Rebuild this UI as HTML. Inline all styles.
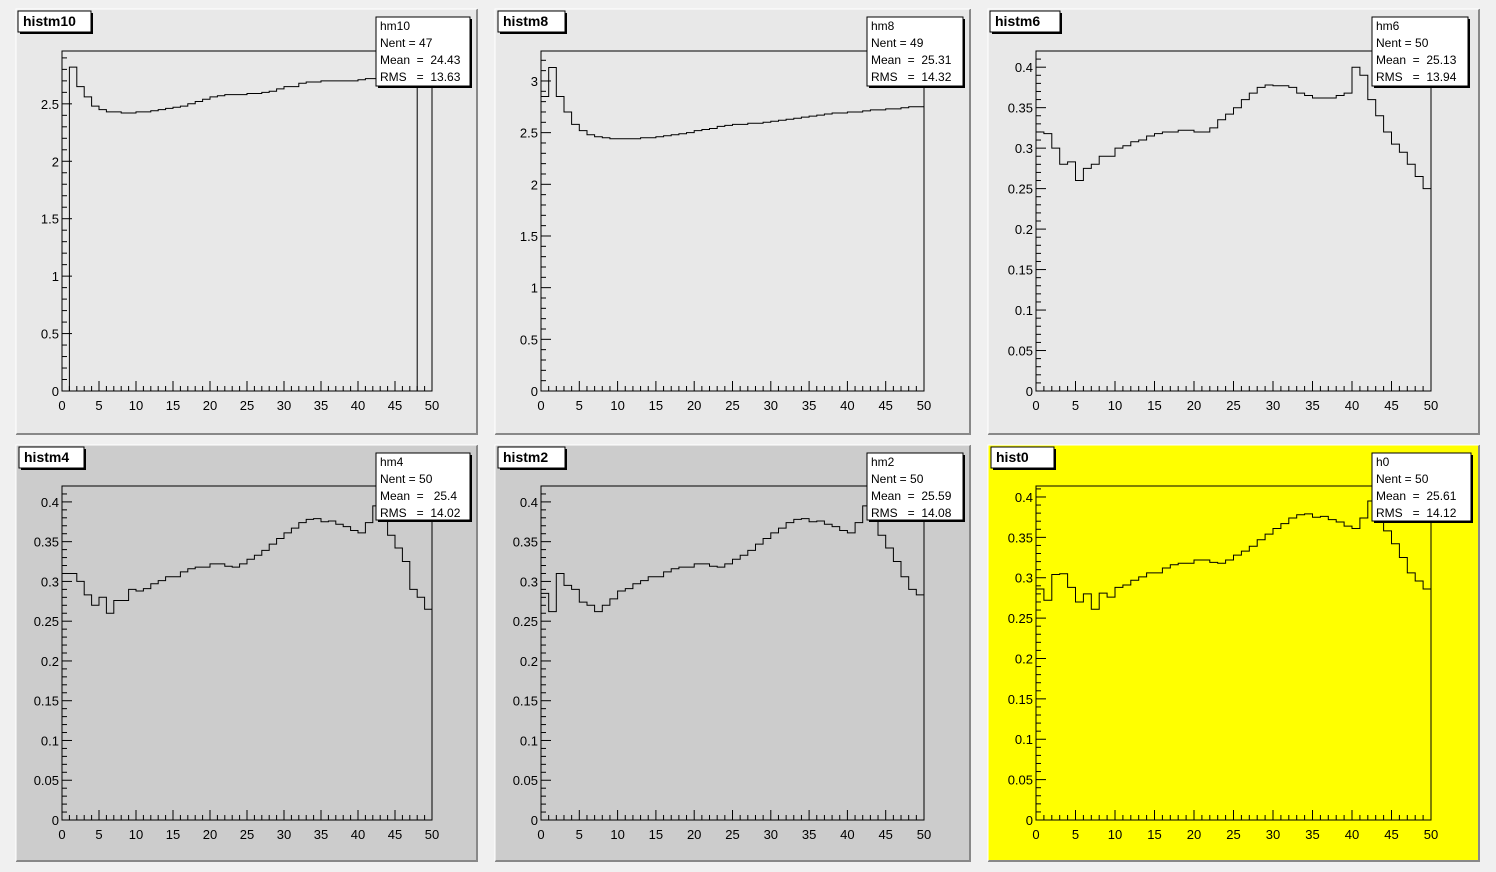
<!DOCTYPE html>
<html><head><meta charset="utf-8"><style>
body{margin:0;background:#f0f0f0;}
svg{display:block;font-family:"Liberation Sans",sans-serif;}
</style></head><body>
<svg id="s" width="1496" height="872" xmlns="http://www.w3.org/2000/svg"></svg>
<script>
const S=document.getElementById('s');let h='<rect width="1496" height="872" fill="#f0f0f0"/>';
const h0=[0.286,0.272,0.304,0.305,0.288,0.270,0.280,0.261,0.281,0.276,0.288,0.291,0.297,0.301,0.306,0.306,0.312,0.316,0.318,0.318,0.322,0.322,0.319,0.318,0.322,0.328,0.333,0.339,0.347,0.354,0.361,0.367,0.374,0.378,0.379,0.375,0.376,0.372,0.369,0.364,0.361,0.374,0.395,0.39,0.358,0.342,0.325,0.306,0.296,0.286];
const hm2=h0.slice();[0.285,0.262,0.31,0.295,0.29,0.274,0.27,0.262,0.27,0.278].forEach((v,i)=>hm2[i]=v);hm2[49]=0.283;hm2[48]=0.29;
const hm4=h0.slice();[0.31,0.31,0.30,0.283,0.27,0.28,0.26,0.276,0.276,0.29].forEach((v,i)=>hm4[i]=v);hm4[49]=0.265;hm4[48]=0.28;hm4[47]=0.29;
const hm6=[0.32,0.318,0.30,0.28,0.283,0.26,0.275,0.28,0.29,0.29,0.3,0.303,0.308,0.31,0.315,0.318,0.32,0.32,0.322,0.322,0.32,0.32,0.325,0.335,0.342,0.35,0.36,0.368,0.375,0.378,0.377,0.377,0.375,0.368,0.365,0.362,0.362,0.362,0.365,0.368,0.4,0.39,0.36,0.34,0.32,0.305,0.295,0.28,0.265,0.25];
const hm10=[0,2.82,2.65,2.56,2.48,2.45,2.43,2.43,2.42,2.42,2.43,2.43,2.44,2.45,2.46,2.47,2.48,2.5,2.52,2.54,2.56,2.57,2.58,2.58,2.58,2.59,2.59,2.6,2.61,2.63,2.65,2.65,2.68,2.69,2.69,2.7,2.7,2.7,2.7,2.7,2.71,2.72,2.72,2.73,2.74,2.75,2.76,2.76,9,0];
hm10[47]=9;hm10[48]=0;hm10[49]=0;
const hm8=[2.85,3.13,2.85,2.7,2.58,2.52,2.48,2.46,2.45,2.44,2.44,2.44,2.44,2.45,2.45,2.46,2.47,2.48,2.49,2.5,2.52,2.53,2.54,2.56,2.57,2.58,2.58,2.59,2.59,2.6,2.61,2.62,2.63,2.64,2.65,2.66,2.67,2.68,2.69,2.69,2.7,2.7,2.71,2.72,2.72,2.73,2.73,2.74,2.75,2.75];
function pad(P){
 const [px,py,pw,ph]=P.pad,[fx,fy,fx2,fy2]=P.frame;
 h+=`<rect x="${px}" y="${py}" width="${pw}" height="${ph}" fill="${P.bg}"/>`;
 h+=`<path d="M${px} ${py+ph}H${px+pw}V${py}" stroke="#888" stroke-width="2" fill="none"/><path d="M${px} ${py+ph}V${py}H${px+pw}" stroke="#fff" stroke-width="1" fill="none"/>`;
 const fw=fx2-fx,fh=fy2-fy;
 h+=`<rect x="${fx}" y="${fy}" width="${fw}" height="${fh}" fill="none" stroke="#000"/>`;
 const X=v=>fx+v/50*fw,Y=v=>fy2-Math.min(v,P.ymax)/P.ymax*fh;
 let d=`M${fx} ${fy2}`;P.data.forEach((v,i)=>{d+=`V${Y(v).toFixed(1)}H${X(i+1).toFixed(1)}`;});d+=`V${fy2}`;
 h+=`<path d="${d}" fill="none" stroke="#000"/>`;
 for(let i=0;i<=50;i++){const x=X(i),L=i%5?5:10;h+=`<line x1="${x}" x2="${x}" y1="${fy2}" y2="${fy2-L}" stroke="#000"/>`;
  if(i%5==0)h+=`<text x="${x}" y="${fy2+19}" font-size="13" text-anchor="middle">${i}</text>`;}
 for(let k=0;;k++){const v=k*P.minor;if(v>P.ymax+1e-9)break;const y=Y(v),maj=k%5==0;h+=`<line x1="${fx}" x2="${fx+(maj?10:5)}" y1="${y}" y2="${y}" stroke="#000"/>`;
  if(maj){let t=+(v.toFixed(3))+'';h+=`<text x="${fx-3}" y="${y+5}" font-size="13" text-anchor="end">${t}</text>`;}}
 const [tx,ty,tw]=P.title;h+=`<rect x="${tx+2}" y="${ty+2}" width="${tw}" height="21" fill="#000"/><rect x="${tx}" y="${ty}" width="${tw}" height="21" fill="#fff" stroke="#000"/><text x="${tx+5}" y="${ty+15}" font-size="14" font-weight="bold">${P.name}</text>`;
 const [sx,sy,sw,sh]=P.stat;h+=`<rect x="${sx+2}" y="${sy+2}" width="${sw}" height="${sh}" fill="#000"/><rect x="${sx}" y="${sy}" width="${sw}" height="${sh}" fill="#fff" stroke="#000"/>`;
 const rows=[P.h,'Nent = '+P.n,'Mean  =  '+P.mean,'RMS   =  '+P.rms];
 rows.forEach((r,i)=>h+=`<text x="${sx+4}" y="${sy+13+i*17}" font-size="12" xml:space="preserve">${r}</text>`);
}
const G='#e8e8e8',D='#cccccc';
pad({pad:[16,9,461,425],frame:[62,51,432,391],bg:G,data:hm10,ymax:2.96,minor:0.1,name:'histm10',title:[18,11,73],stat:[376,17,94,69],h:'hm10',n:47,mean:'24.43',rms:'13.63'});
pad({pad:[495,9,475,425],frame:[541,51,924,391],bg:G,data:hm8,ymax:3.29,minor:0.1,name:'histm8',title:[498,11,67],stat:[867,17,96,69],h:'hm8',n:49,mean:'25.31',rms:'14.32'});
pad({pad:[988,9,491,425],frame:[1036,51,1431,391],bg:G,data:hm6,ymax:0.42,minor:0.01,name:'histm6',title:[990,11,70],stat:[1372,17,96,69],h:'hm6',n:50,mean:'25.13',rms:'13.94'});
pad({pad:[16,445,461,416],frame:[62,486,432,820],bg:D,data:hm4,ymax:0.42,minor:0.01,name:'histm4',title:[19,447,65],stat:[376,453,94,67],h:'hm4',n:50,mean:' 25.4',rms:'14.02'});
pad({pad:[495,445,475,416],frame:[541,486,924,820],bg:D,data:hm2,ymax:0.42,minor:0.01,name:'histm2',title:[498,447,67],stat:[867,453,96,67],h:'hm2',n:50,mean:'25.59',rms:'14.08'});
pad({pad:[988,445,491,416],frame:[1036,486,1431,820],bg:'#ffff00',data:h0,ymax:0.4136,minor:0.01,name:'hist0',title:[991,447,63],stat:[1372,453,99,68],h:'h0',n:50,mean:'25.61',rms:'14.12'});
S.innerHTML=h;
</script></body></html>
